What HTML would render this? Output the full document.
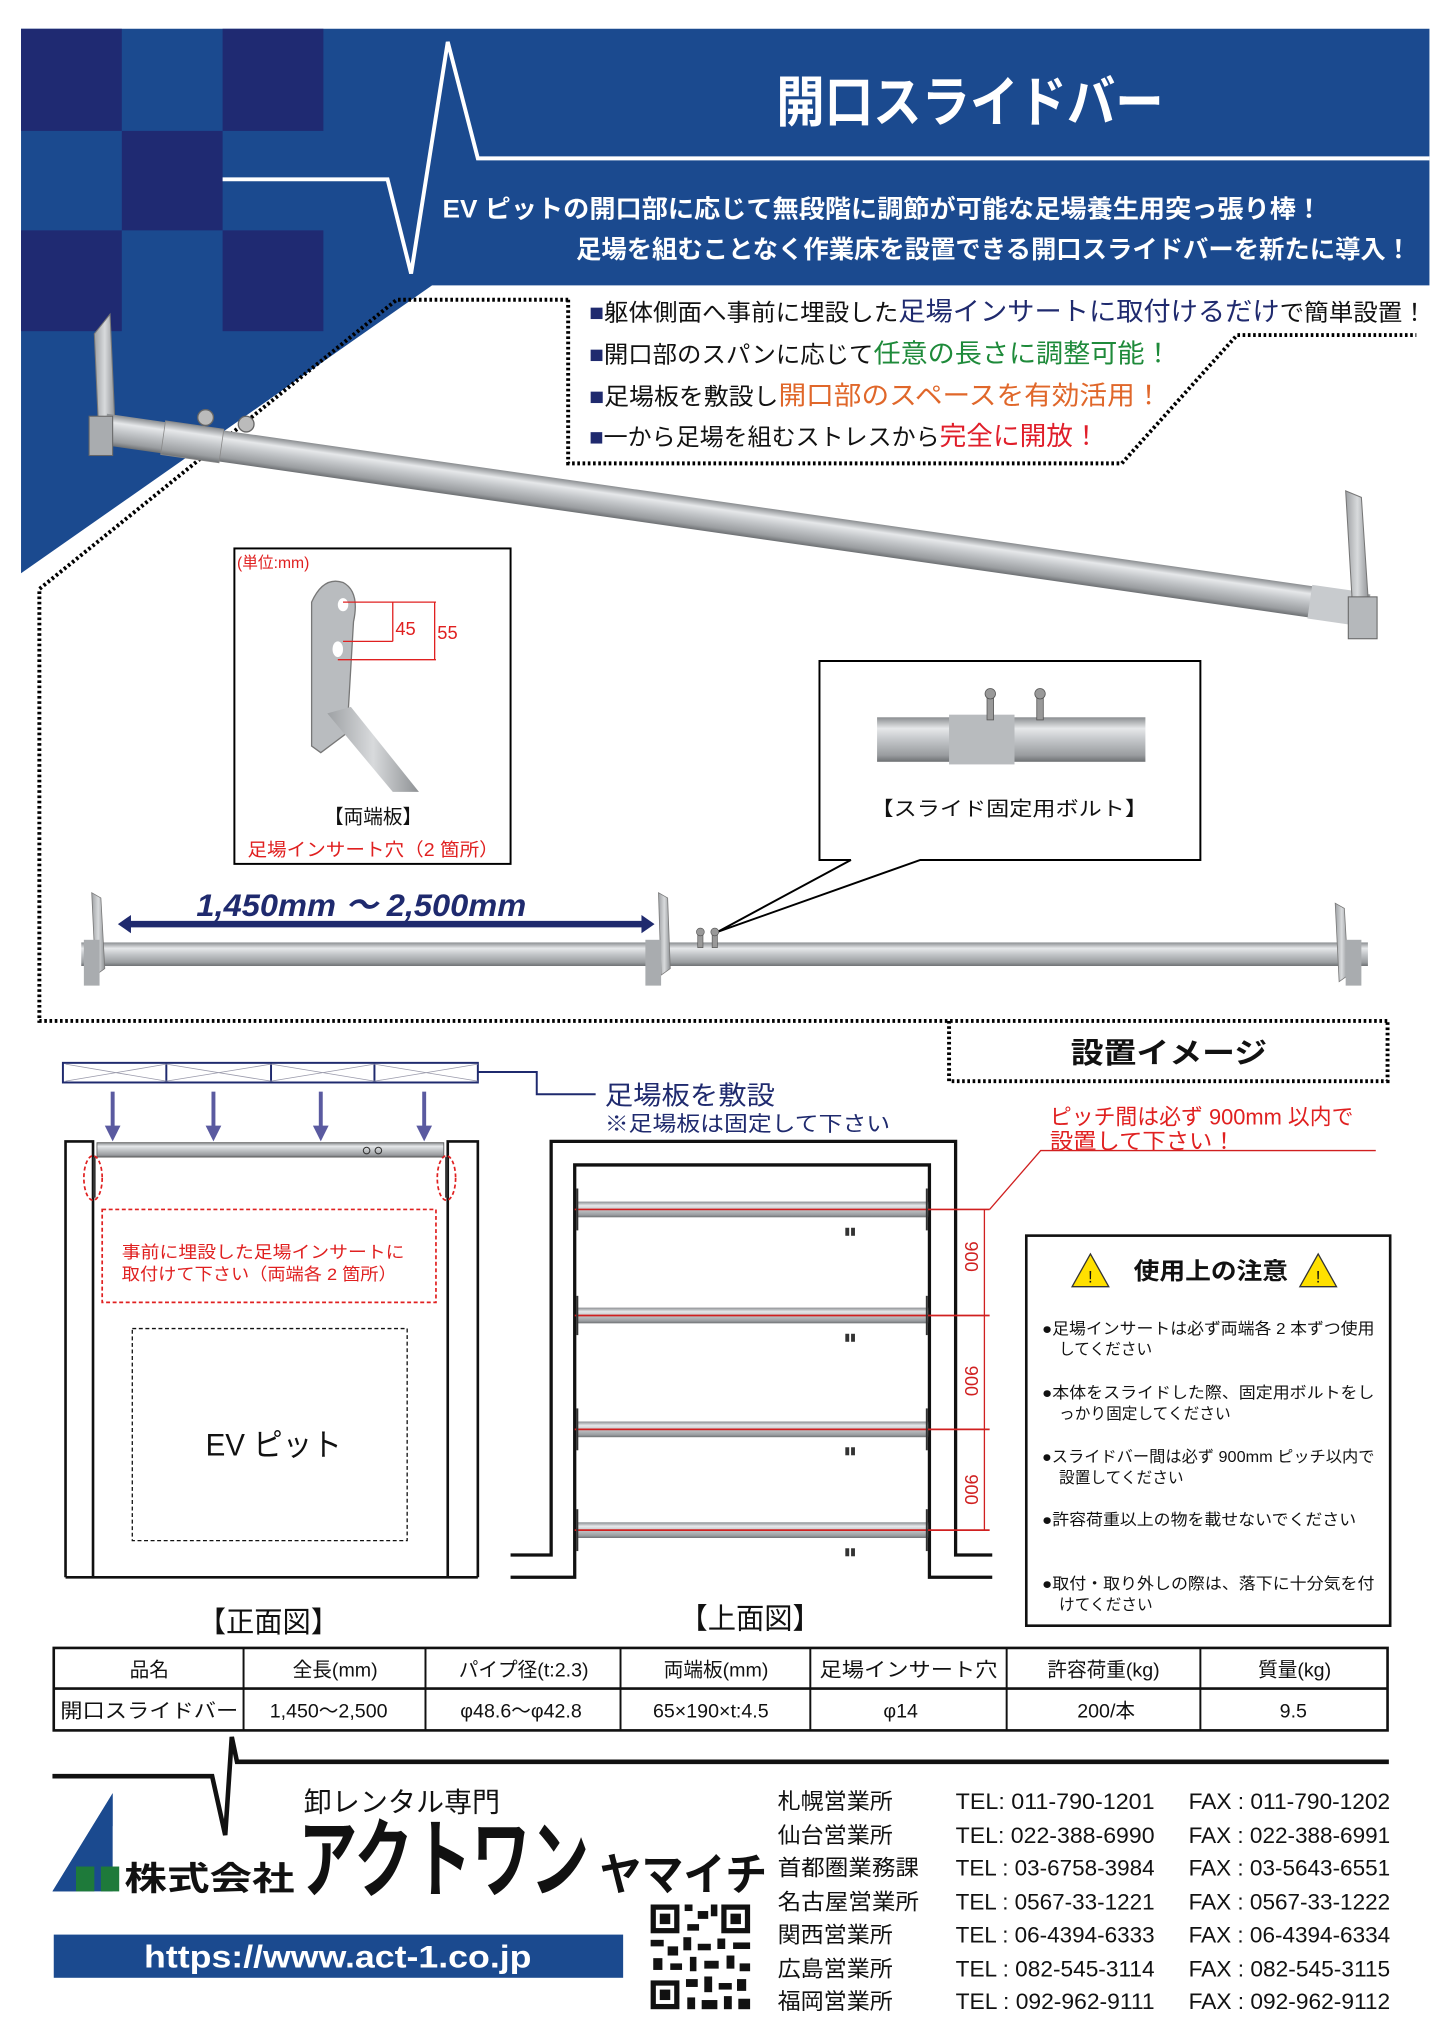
<!DOCTYPE html>
<html><head><meta charset="utf-8"><style>
html,body{margin:0;padding:0;background:#fff;}
svg{display:block;}
text{font-family:"Liberation Sans","Noto Sans CJK JP",sans-serif;}
</style></head><body>
<svg width="1440" height="2038" viewBox="0 0 1100 1557" xmlns="http://www.w3.org/2000/svg">
<defs>
<linearGradient id="pg" x1="0" y1="0" x2="0" y2="1">
<stop offset="0" stop-color="#8a8d90"/><stop offset="0.25" stop-color="#e6e8ea"/><stop offset="0.5" stop-color="#c4c7ca"/><stop offset="0.85" stop-color="#9a9da0"/><stop offset="1" stop-color="#6d7073"/>
</linearGradient>
<linearGradient id="pl" x1="0" y1="0" x2="1" y2="0">
<stop offset="0" stop-color="#9ea1a4"/><stop offset="0.5" stop-color="#d8dadc"/><stop offset="1" stop-color="#8e9194"/>
</linearGradient>
</defs>
<rect width="1100" height="1557" fill="#fff"/>
<!-- banner -->
<polygon points="16,22 1092,22 1092,218 330,218 16,438" fill="#1b4a8f"/>
<g fill="#1f2a72">
<rect x="16" y="22" width="77" height="78"/><rect x="170" y="22" width="77" height="78"/>
<rect x="93" y="100" width="77" height="76"/>
<rect x="16" y="176" width="77" height="77"/><rect x="170" y="176" width="77" height="77"/>
</g>
<polygon points="16,253 247,253 247,218 330,218 16,438" fill="#1b4a8f" opacity="0"/>
<polyline points="170,137 296,137 314,209 342,32 365,121 1092,121" fill="none" stroke="#fff" stroke-width="3"/>
<text x="593" y="93" font-size="42" font-weight="bold" fill="#fff" textLength="296" lengthAdjust="spacingAndGlyphs">開口スライドバー</text>
<text x="338" y="166" font-size="19" font-weight="bold" fill="#fff" textLength="672" lengthAdjust="spacingAndGlyphs">EV ピットの開口部に応じて無段階に調節が可能な足場養生用突っ張り棒！</text>
<text x="440" y="197" font-size="19" font-weight="bold" fill="#fff" textLength="638" lengthAdjust="spacingAndGlyphs">足場を組むことなく作業床を設置できる開口スライドバーを新たに導入！</text>
<!-- dotted outlines -->
<g fill="none" stroke="#000" stroke-width="3" stroke-dasharray="2 2">
<polyline points="434,229 303,229 30,450 30,780 1060,780"/>
<polyline points="434,229 434,354 857,354 945,256 1082,256"/>
<polyline points="725,780 725,826 1060,826 1060,780"/>
</g>
<!-- bullets -->
<text x="450" y="245" font-size="18" fill="#111" textLength="640" lengthAdjust="spacingAndGlyphs"><tspan fill="#1f2a6e">■</tspan>躯体側面へ事前に埋設した<tspan fill="#1f2a6e" font-size="20">足場インサートに取付けるだけ</tspan>で簡単設置！</text>
<text x="450" y="277" font-size="18" fill="#111" textLength="445" lengthAdjust="spacingAndGlyphs"><tspan fill="#1f2a6e">■</tspan>開口部のスパンに応じて<tspan fill="#1e8a3a" font-size="20">任意の長さに調整可能！</tspan></text>
<text x="450" y="309" font-size="18" fill="#111" textLength="438" lengthAdjust="spacingAndGlyphs"><tspan fill="#1f2a6e">■</tspan>足場板を敷設し<tspan fill="#e0672a" font-size="20">開口部のスペースを有効活用！</tspan></text>
<text x="450" y="340" font-size="18" fill="#111" textLength="390" lengthAdjust="spacingAndGlyphs"><tspan fill="#1f2a6e">■</tspan>一から足場を組むストレスから<tspan fill="#e01e2a" font-size="20">完全に開放！</tspan></text>
<!-- big diagonal pipe -->
<polygon points="72,255 84,240 88,330 76,345" fill="url(#pl)" stroke="#777" stroke-width="0.8"/>
<g transform="translate(80,328) rotate(8.14)">
<rect x="0" y="-12" width="975" height="24" fill="url(#pg)"/>
<rect x="45" y="-13" width="45" height="26" fill="url(#pg)" stroke="#888" stroke-width="0.6"/>
<rect x="930" y="-13" width="40" height="26" fill="#c8cbce"/>
</g>
<circle cx="157" cy="319" r="6" fill="#bbb" stroke="#666"/><circle cx="188" cy="324" r="6" fill="#bbb" stroke="#666"/>
<rect x="68" y="318" width="18" height="30" fill="#a9acaf" stroke="#666" stroke-width="0.8"/>
<polygon points="1028,375 1040,380 1046,470 1034,476" fill="url(#pl)" stroke="#777" stroke-width="0.8"/>
<rect x="1030" y="456" width="22" height="32" fill="#b5b8bb" stroke="#666" stroke-width="0.8"/>
<!-- 両端板 box -->
<rect x="179" y="419" width="211" height="241" fill="#fff" stroke="#000" stroke-width="1.5"/>
<text x="181" y="434" font-size="12" fill="#e02020">(単位:mm)</text>
<path d="M238,460 Q247,440 262,445 Q275,452 270,475 L265,560 L245,575 L238,570 Z" fill="#b9bcbf" stroke="#777"/>
<ellipse cx="262" cy="462" rx="4" ry="5" fill="#fff"/><ellipse cx="258" cy="496" rx="4" ry="6" fill="#fff"/>
<polygon points="250,545 268,540 320,605 300,605" fill="url(#pl)"/>
<g stroke="#e02020" stroke-width="1" fill="none"><line x1="262" y1="460" x2="333" y2="460"/><line x1="262" y1="490" x2="300" y2="490"/><line x1="258" y1="504" x2="333" y2="504"/><line x1="300" y1="460" x2="300" y2="490"/><line x1="332" y1="460" x2="332" y2="504"/></g>
<text x="302" y="485" font-size="14" fill="#e02020">45</text><text x="334" y="488" font-size="14" fill="#e02020">55</text>
<text x="285" y="629" font-size="15" fill="#111" text-anchor="middle">【両端板】</text>
<text x="285" y="654" font-size="14" fill="#e02020" text-anchor="middle" textLength="192" lengthAdjust="spacingAndGlyphs">足場インサート穴（2 箇所）</text>
<!-- callout -->
<polygon points="626,505 917,505 917,657 703,657 548,712 650,657 626,657" fill="#fff" stroke="#000" stroke-width="1.5"/>
<rect x="670" y="548" width="205" height="34" fill="url(#pg)"/>
<rect x="725" y="546" width="50" height="38" fill="#b8bbbe"/>
<g fill="#999" stroke="#555" stroke-width="0.6"><rect x="754" y="532" width="5" height="18"/><circle cx="756.5" cy="530" r="4"/><rect x="792" y="532" width="5" height="18"/><circle cx="794.5" cy="530" r="4"/></g>
<text x="771" y="623" font-size="15" fill="#111" text-anchor="middle" textLength="212" lengthAdjust="spacingAndGlyphs">【スライド固定用ボルト】</text>
<!-- lower bar -->
<text x="150" y="700" font-size="24" font-weight="bold" font-style="italic" fill="#1f2a6e" textLength="252" lengthAdjust="spacingAndGlyphs">1,450mm ～ 2,500mm</text>
<line x1="98" y1="706" x2="492" y2="706" stroke="#1f2a6e" stroke-width="5"/>
<polygon points="90,706 100,699 100,713" fill="#1f2a6e"/><polygon points="500,706 490,699 490,713" fill="#1f2a6e"/>
<rect x="62" y="720" width="983" height="18" fill="url(#pg)"/>
<polygon points="70,682 77,686 80,740 73,745" fill="url(#pl)" stroke="#777" stroke-width="0.6"/>
<rect x="64" y="718" width="12" height="35" fill="#a9acaf"/>
<polygon points="503,682 510,686 512,740 505,745" fill="url(#pl)" stroke="#777" stroke-width="0.6"/>
<rect x="493" y="718" width="12" height="35" fill="#a9acaf"/>
<polygon points="1020,690 1027,694 1030,745 1023,750" fill="url(#pl)" stroke="#777" stroke-width="0.6"/>
<rect x="1028" y="718" width="12" height="35" fill="#a9acaf"/>
<g fill="#999" stroke="#555" stroke-width="0.5"><rect x="533" y="714" width="4" height="10"/><circle cx="535" cy="712" r="3"/><rect x="544" y="714" width="4" height="10"/><circle cx="546" cy="712" r="3"/></g>
<!-- 設置イメージ -->
<text x="893" y="812" font-size="22" font-weight="bold" fill="#111" text-anchor="middle" textLength="150" lengthAdjust="spacingAndGlyphs">設置イメージ</text>
<!-- 足場板 strip -->
<g stroke="#1f2a6e" stroke-width="1.5" fill="#fff">
<rect x="48" y="812" width="317" height="15"/>
</g>
<g stroke="#1f2a6e" stroke-width="1.5"><line x1="127" y1="812" x2="127" y2="827"/><line x1="207" y1="812" x2="207" y2="827"/><line x1="286" y1="812" x2="286" y2="827"/></g>
<g stroke="#99a" stroke-width="0.6"><line x1="50" y1="813" x2="127" y2="826"/><line x1="50" y1="826" x2="127" y2="813"/><line x1="127" y1="813" x2="207" y2="826"/><line x1="127" y1="826" x2="207" y2="813"/><line x1="207" y1="813" x2="286" y2="826"/><line x1="207" y1="826" x2="286" y2="813"/><line x1="286" y1="813" x2="365" y2="826"/><line x1="286" y1="826" x2="365" y2="813"/></g>
<polyline points="365,819 410,819 410,836 455,836" fill="none" stroke="#1f2a6e" stroke-width="1.5"/>
<text x="462" y="844" font-size="20" fill="#1f2a6e" textLength="130" lengthAdjust="spacingAndGlyphs">足場板を敷設</text>
<text x="462" y="864" font-size="16" fill="#1f2a6e" textLength="218" lengthAdjust="spacingAndGlyphs">※足場板は固定して下さい</text>
<g stroke="#5a5aa0" stroke-width="3" fill="#5a5aa0">
<line x1="86" y1="834" x2="86" y2="862"/><polygon points="80,860 92,860 86,872" stroke="none"/>
<line x1="163" y1="834" x2="163" y2="862"/><polygon points="157,860 169,860 163,872" stroke="none"/>
<line x1="245" y1="834" x2="245" y2="862"/><polygon points="239,860 251,860 245,872" stroke="none"/>
<line x1="324" y1="834" x2="324" y2="862"/><polygon points="318,860 330,860 324,872" stroke="none"/>
</g>
<!-- front view -->
<g fill="none" stroke="#111" stroke-width="2">
<polyline points="50,1205 50,872 71,872 71,1205"/>
<polyline points="365,1205 365,872 342,872 342,1205"/>
<line x1="50" y1="1205" x2="365" y2="1205"/>
</g>
<rect x="74" y="873" width="265" height="11" fill="url(#pg)" stroke="#555" stroke-width="0.6"/>
<circle cx="280" cy="879" r="2.5" fill="none" stroke="#333" stroke-width="0.8"/><circle cx="289" cy="879" r="2.5" fill="none" stroke="#333" stroke-width="0.8"/>
<line x1="72" y1="884" x2="72" y2="915" stroke="#333" stroke-width="2"/><line x1="341" y1="884" x2="341" y2="915" stroke="#333" stroke-width="2"/>
<g fill="none" stroke="#e02020" stroke-width="1.3" stroke-dasharray="3 2">
<ellipse cx="71" cy="900" rx="7" ry="17"/><ellipse cx="341" cy="900" rx="7" ry="17"/>
<rect x="78" y="924" width="255" height="71"/>
</g>
<text x="93" y="961" font-size="13" fill="#e02020" textLength="216" lengthAdjust="spacingAndGlyphs">事前に埋設した足場インサートに</text>
<text x="93" y="978" font-size="13" fill="#e02020" textLength="210" lengthAdjust="spacingAndGlyphs">取付けて下さい（両端各 2 箇所）</text>
<rect x="101" y="1015" width="210" height="162" fill="none" stroke="#111" stroke-width="1" stroke-dasharray="3 2"/>
<text x="157" y="1112" font-size="24" fill="#111" textLength="104" lengthAdjust="spacingAndGlyphs">EV ピット</text>
<text x="205" y="1247" font-size="22" fill="#111" text-anchor="middle" textLength="108" lengthAdjust="spacingAndGlyphs">【正面図】</text>
<!-- top view -->
<g fill="none" stroke="#111" stroke-width="2.5">
<polyline points="390,1188 421,1188 421,872 730,872 730,1188 758,1188"/>
<polyline points="390,1205 439,1205 439,890 710,890 710,1205 758,1205"/>
</g>
<g>
<rect x="441" y="918" width="268" height="12" fill="url(#pg)"/><line x1="439" y1="924" x2="756" y2="924" stroke="#d02020" stroke-width="1.3"/>
<rect x="441" y="999" width="268" height="12" fill="url(#pg)"/><line x1="439" y1="1005" x2="756" y2="1005" stroke="#d02020" stroke-width="1.3"/>
<rect x="441" y="1086" width="268" height="12" fill="url(#pg)"/><line x1="439" y1="1092" x2="756" y2="1092" stroke="#d02020" stroke-width="1.3"/>
<rect x="441" y="1163" width="268" height="12" fill="url(#pg)"/><line x1="439" y1="1169" x2="756" y2="1169" stroke="#d02020" stroke-width="1.3"/>
</g>
<g stroke="#333" stroke-width="1.5">
<line x1="441" y1="908" x2="441" y2="940"/><line x1="708" y1="908" x2="708" y2="940"/>
<line x1="441" y1="990" x2="441" y2="1020"/><line x1="708" y1="990" x2="708" y2="1020"/>
<line x1="441" y1="1076" x2="441" y2="1108"/><line x1="708" y1="1076" x2="708" y2="1108"/>
<line x1="441" y1="1153" x2="441" y2="1185"/><line x1="708" y1="1153" x2="708" y2="1185"/>
</g>
<g fill="#333" font-size="8"><text x="645" y="943">▮▮</text><text x="645" y="1024">▮▮</text><text x="645" y="1111">▮▮</text><text x="645" y="1188">▮▮</text></g>
<line x1="752" y1="924" x2="752" y2="1169" stroke="#d02020" stroke-width="1"/>
<g fill="#d02020" font-size="14">
<text transform="translate(737,960) rotate(90)" text-anchor="middle">900</text>
<text transform="translate(737,1055) rotate(90)" text-anchor="middle">900</text>
<text transform="translate(737,1138) rotate(90)" text-anchor="middle">900</text>
</g>
<polyline points="756,924 795,879 1051,879" fill="none" stroke="#d02020" stroke-width="1"/>
<text x="802" y="859" font-size="17" fill="#e02020" textLength="232" lengthAdjust="spacingAndGlyphs">ピッチ間は必ず 900mm 以内で</text>
<text x="802" y="878" font-size="17" fill="#e02020" textLength="142" lengthAdjust="spacingAndGlyphs">設置して下さい！</text>
<text x="573" y="1244" font-size="22" fill="#111" text-anchor="middle" textLength="108" lengthAdjust="spacingAndGlyphs">【上面図】</text>
<!-- caution box -->
<rect x="784" y="944" width="278" height="298" fill="#fff" stroke="#111" stroke-width="2"/>
<polygon points="833,958 819,983 847,983" fill="#ffe000" stroke="#333"/><text x="833" y="980" font-size="13" text-anchor="middle" fill="#111">!</text>
<polygon points="1007,958 993,983 1021,983" fill="#ffe000" stroke="#333"/><text x="1007" y="980" font-size="13" text-anchor="middle" fill="#111">!</text>
<text x="866" y="977" font-size="18" font-weight="bold" fill="#111" textLength="118" lengthAdjust="spacingAndGlyphs">使用上の注意</text>
<g font-size="12" fill="#111">
<text x="796" y="1019" textLength="254" lengthAdjust="spacingAndGlyphs">●足場インサートは必ず両端各 2 本ずつ使用</text>
<text x="809" y="1035">してください</text>
<text x="796" y="1068" textLength="254" lengthAdjust="spacingAndGlyphs">●本体をスライドした際、固定用ボルトをし</text>
<text x="809" y="1084">っかり固定してください</text>
<text x="796" y="1117" textLength="254" lengthAdjust="spacingAndGlyphs">●スライドバー間は必ず 900mm ピッチ以内で</text>
<text x="809" y="1133">設置してください</text>
<text x="796" y="1165" textLength="240" lengthAdjust="spacingAndGlyphs">●許容荷重以上の物を載せないでください</text>
<text x="796" y="1214" textLength="254" lengthAdjust="spacingAndGlyphs">●取付・取り外しの際は、落下に十分気を付</text>
<text x="809" y="1230">けてください</text>
</g>
<!-- table -->
<g fill="none" stroke="#111">
<rect x="41" y="1259" width="1019" height="63" stroke-width="2"/>
<line x1="41" y1="1290" x2="1060" y2="1290" stroke-width="2"/>
<line x1="186" y1="1259" x2="186" y2="1322" stroke-width="1.5"/><line x1="325" y1="1259" x2="325" y2="1322" stroke-width="1.5"/>
<line x1="474" y1="1259" x2="474" y2="1322" stroke-width="1.5"/><line x1="619" y1="1259" x2="619" y2="1322" stroke-width="1.5"/>
<line x1="769" y1="1259" x2="769" y2="1322" stroke-width="1.5"/><line x1="917" y1="1259" x2="917" y2="1322" stroke-width="1.5"/>
</g>
<g font-size="15" fill="#111" text-anchor="middle">
<text x="114" y="1281">品名</text><text x="256" y="1281">全長(mm)</text><text x="400" y="1281">パイプ径(t:2.3)</text>
<text x="547" y="1281">両端板(mm)</text><text x="694" y="1281" textLength="136" lengthAdjust="spacingAndGlyphs">足場インサート穴</text>
<text x="843" y="1281">許容荷重(kg)</text><text x="989" y="1281">質量(kg)</text>
<text x="114" y="1312" textLength="136" lengthAdjust="spacingAndGlyphs">開口スライドバー</text><text x="251" y="1312">1,450～2,500</text>
<text x="398" y="1312">φ48.6～φ42.8</text><text x="543" y="1312">65×190×t:4.5</text><text x="688" y="1312">φ14</text>
<text x="845" y="1312">200/本</text><text x="988" y="1312">9.5</text>
</g>
<!-- footer -->
<polyline points="40,1357 162,1357 172,1402 177,1327 181,1346 1061,1346" fill="none" stroke="#111" stroke-width="3.5"/>
<polygon points="40,1445 86,1370 86,1445" fill="#1b4a8f"/>
<polygon points="40,1445 58,1445 86,1395 86,1370" fill="#1b4a8f"/>
<rect x="58" y="1426" width="14" height="19" fill="#1e7a3a"/><rect x="77" y="1426" width="14" height="19" fill="#1e7a3a"/>
<text x="232" y="1384" font-size="21" fill="#111" textLength="150" lengthAdjust="spacingAndGlyphs">卸レンタル専門</text>
<text x="95" y="1444" font-size="25" font-weight="bold" fill="#111" textLength="130" lengthAdjust="spacingAndGlyphs">株式会社</text>
<text x="228" y="1444" font-size="66" font-weight="bold" fill="#111" textLength="222" lengthAdjust="spacingAndGlyphs">アクトワン</text>
<text x="458" y="1444" font-size="34" font-weight="bold" fill="#111" textLength="128" lengthAdjust="spacingAndGlyphs">ヤマイチ</text>
<rect x="41" y="1478" width="435" height="33" fill="#1b4a8f"/>
<text x="258" y="1503" font-size="24" font-weight="bold" fill="#fff" text-anchor="middle" textLength="296" lengthAdjust="spacingAndGlyphs">https://www.act-1.co.jp</text>
<!-- QR -->
<g fill="#111">
<rect x="497" y="1455" width="76" height="80" fill="#fff"/>
<rect x="497" y="1455" width="22" height="22"/><rect x="501" y="1459" width="14" height="14" fill="#fff"/><rect x="504" y="1462" width="8" height="8"/>
<rect x="551" y="1455" width="22" height="22"/><rect x="555" y="1459" width="14" height="14" fill="#fff"/><rect x="558" y="1462" width="8" height="8"/>
<rect x="497" y="1513" width="22" height="22"/><rect x="501" y="1517" width="14" height="14" fill="#fff"/><rect x="504" y="1520" width="8" height="8"/>
<rect x="523" y="1455" width="6" height="5"/><rect x="533" y="1460" width="8" height="6"/><rect x="543" y="1455" width="5" height="9"/><rect x="525" y="1470" width="9" height="5"/>
<rect x="497" y="1482" width="10" height="5"/><rect x="510" y="1487" width="8" height="7"/><rect x="522" y="1480" width="6" height="10"/><rect x="533" y="1485" width="10" height="5"/>
<rect x="548" y="1481" width="6" height="8"/><rect x="560" y="1484" width="13" height="5"/><rect x="499" y="1496" width="7" height="9"/><rect x="512" y="1500" width="9" height="5"/>
<rect x="527" y="1495" width="5" height="11"/><rect x="538" y="1498" width="11" height="6"/><rect x="555" y="1494" width="6" height="10"/><rect x="565" y="1500" width="8" height="6"/>
<rect x="524" y="1512" width="9" height="6"/><rect x="538" y="1510" width="6" height="12"/><rect x="549" y="1515" width="10" height="5"/><rect x="563" y="1512" width="7" height="9"/>
<rect x="525" y="1526" width="6" height="9"/><rect x="536" y="1528" width="12" height="7"/><rect x="553" y="1525" width="6" height="10"/><rect x="564" y="1527" width="9" height="8"/>
</g>
<g font-size="17" fill="#111">
<text x="594" y="1382" textLength="88" lengthAdjust="spacingAndGlyphs">札幌営業所</text>
<text x="594" y="1408" textLength="88" lengthAdjust="spacingAndGlyphs">仙台営業所</text>
<text x="594" y="1433" textLength="108" lengthAdjust="spacingAndGlyphs">首都圏業務課</text>
<text x="594" y="1459" textLength="108" lengthAdjust="spacingAndGlyphs">名古屋営業所</text>
<text x="594" y="1484" textLength="88" lengthAdjust="spacingAndGlyphs">関西営業所</text>
<text x="594" y="1510" textLength="88" lengthAdjust="spacingAndGlyphs">広島営業所</text>
<text x="594" y="1535" textLength="88" lengthAdjust="spacingAndGlyphs">福岡営業所</text>
<text x="730" y="1382" textLength="152" lengthAdjust="spacingAndGlyphs">TEL: 011-790-1201</text>
<text x="730" y="1408" textLength="152" lengthAdjust="spacingAndGlyphs">TEL: 022-388-6990</text>
<text x="730" y="1433" textLength="152" lengthAdjust="spacingAndGlyphs">TEL : 03-6758-3984</text>
<text x="730" y="1459" textLength="152" lengthAdjust="spacingAndGlyphs">TEL : 0567-33-1221</text>
<text x="730" y="1484" textLength="152" lengthAdjust="spacingAndGlyphs">TEL : 06-4394-6333</text>
<text x="730" y="1510" textLength="152" lengthAdjust="spacingAndGlyphs">TEL : 082-545-3114</text>
<text x="730" y="1535" textLength="152" lengthAdjust="spacingAndGlyphs">TEL : 092-962-9111</text>
<text x="908" y="1382" textLength="154" lengthAdjust="spacingAndGlyphs">FAX : 011-790-1202</text>
<text x="908" y="1408" textLength="154" lengthAdjust="spacingAndGlyphs">FAX : 022-388-6991</text>
<text x="908" y="1433" textLength="154" lengthAdjust="spacingAndGlyphs">FAX : 03-5643-6551</text>
<text x="908" y="1459" textLength="154" lengthAdjust="spacingAndGlyphs">FAX : 0567-33-1222</text>
<text x="908" y="1484" textLength="154" lengthAdjust="spacingAndGlyphs">FAX : 06-4394-6334</text>
<text x="908" y="1510" textLength="154" lengthAdjust="spacingAndGlyphs">FAX : 082-545-3115</text>
<text x="908" y="1535" textLength="154" lengthAdjust="spacingAndGlyphs">FAX : 092-962-9112</text>
</g>
</svg>
</body></html>
